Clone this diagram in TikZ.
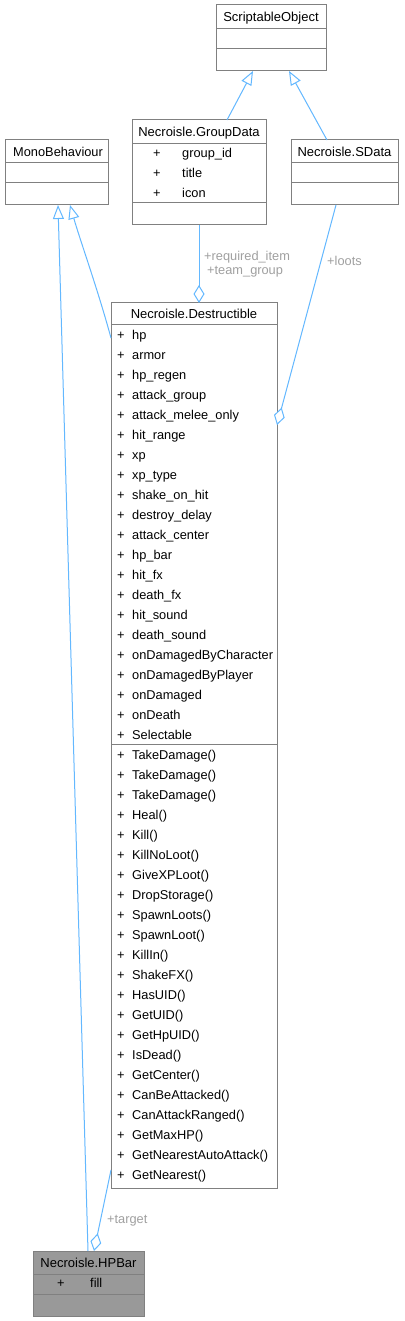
\documentclass[tikz,border=0pt]{standalone}
\usepackage{fontspec}
\setmainfont{Liberation Sans}
\usetikzlibrary{arrows.meta,calc}
\definecolor{edgec}{HTML}{63B8FF}
\definecolor{bord}{HTML}{808080}
\definecolor{lblc}{HTML}{A0A0A0}
\definecolor{hpfill}{HTML}{999999}
\begin{document}
\begin{tikzpicture}[x=1pt,y=-1pt,
  box/.style={draw=bord, line width=1pt, inner sep=0pt, outer sep=0pt, anchor=north west},
  sepline/.style={draw=bord, line width=1pt},
  txt/.style={font=\fontsize{12.8}{15}\selectfont, inner sep=0pt, anchor=base west},
  ttl/.style={font=\fontsize{13}{15}\selectfont, inner sep=0pt, anchor=base},
  lbl/.style={font=\fontsize{12.8}{15}\selectfont, inner sep=0pt, anchor=base west, text=lblc},
  inh/.style={draw=edgec, line width=1pt, -{Triangle[length=14pt,width=11pt,fill=white,line width=1pt]}},
  agg/.style={draw=edgec, line width=1pt, -{Diamond[length=18pt,width=11pt,fill=white,line width=1pt]}}]
\useasboundingbox[fill=white] (0,0) rectangle (404,1321);

% ScriptableObject
\node[box, minimum width=110pt, minimum height=66pt] (so) at (216,5) {};
\draw[sepline] (216,29) -- (326,29);
\draw[sepline] (216,49) -- (326,49);
\node[ttl] (sot) at (271,22) {ScriptableObject};

% GroupData
\node[box, minimum width=134pt, minimum height=105pt] (gd) at (132,120) {};
\draw[sepline] (132,144) -- (266,144);
\draw[sepline] (132,203) -- (266,203);
\node[ttl] (gdt) at (199,137) {Necroisle.GroupData};
\foreach [count=\i from 0] \t in {group\_id,title,icon} {
  \node[txt] (gdp\i) at (153,158+20*\i) {+};
  \node[txt] (gda\i) at (182,158+20*\i) {\t};
}

% MonoBehaviour
\node[box, minimum width=103pt, minimum height=65pt] (mb) at (5,140) {};
\draw[sepline] (5,163) -- (108,163);
\draw[sepline] (5,183) -- (108,183);
\node[txt] (mbt) at (13,157) {MonoBehaviour};

% SData
\node[box, minimum width=107pt, minimum height=65pt] (sd) at (291,140) {};
\draw[sepline] (291,163) -- (398,163);
\draw[sepline] (291,183) -- (398,183);
\node[ttl] (sdt) at (344.5,157) {Necroisle.SData};

% Destructible
\node[box, minimum width=166pt, minimum height=885pt] (ds) at (111,303) {};
\draw[sepline] (111,324) -- (277,324);
\draw[sepline] (111,744) -- (277,744);
\node[ttl] (dst) at (194,319) {Necroisle.Destructible};
\foreach [count=\i from 0] \t in {hp,armor,hp\_regen,attack\_group,attack\_melee\_only,hit\_range,xp,xp\_type,shake\_on\_hit,destroy\_delay,attack\_center,hp\_bar,hit\_fx,death\_fx,hit\_sound,death\_sound,onDamagedByCharacter,onDamagedByPlayer,onDamaged,onDeath,Selectable} {
  \node[txt] (dsp\i) at (117,339+20*\i) {+};
  \node[txt] (dsa\i) at (132,339+20*\i) {\t};
}
\foreach [count=\i from 0] \t in {TakeDamage(),TakeDamage(),TakeDamage(),Heal(),Kill(),KillNoLoot(),GiveXPLoot(),DropStorage(),SpawnLoots(),SpawnLoot(),KillIn(),ShakeFX(),HasUID(),GetUID(),GetHpUID(),IsDead(),GetCenter(),CanBeAttacked(),CanAttackRanged(),GetMaxHP(),GetNearestAutoAttack(),GetNearest()} {
  \node[txt] (dmp\i) at (117,759+20*\i) {+};
  \node[txt] (dmm\i) at (132,759+20*\i) {\t};
}

% HPBar
\node[box, fill=hpfill, minimum width=111pt, minimum height=65pt] (hp) at (33,1251) {};
\draw[sepline] (33,1274) -- (144,1274);
\draw[sepline] (33,1294) -- (144,1294);
\node[ttl] (hpt) at (88.5,1267) {Necroisle.HPBar};
\node[txt] (hpp) at (57,1287) {+};
\node[txt] (hpa) at (90,1287) {fill};

% Edges
\draw[inh] ([xshift=95pt]gd.north west) -- ([xshift=37pt]so.south west);
\draw[inh] ([xshift=36pt]sd.north west) -- ([xshift=73pt]so.south west);
\draw[inh] ([xshift=55pt]hp.north west) -- ([xshift=53pt]mb.south west);
\draw[inh] ([yshift=-35pt]ds.north west) .. controls (98,290) and (80,240) .. ([xshift=65pt]mb.south west);
\draw[agg] ([xshift=67pt]gd.south west) -- ([xshift=88pt]ds.north west);
\draw[agg] ([xshift=45pt]sd.south west) -- ([yshift=-122pt]ds.north east);
\draw[agg] ([yshift=18pt]ds.south west) -- ([xshift=61pt]hp.north west);

% Labels
\node[lbl] (l1) at (204,261) {+required\_item};
\node[lbl] (l2) at (207,275) {+team\_group};
\node[lbl] (l3) at (327,266) {+loots};
\node[lbl] (l4) at (107,1223) {+target};
\end{tikzpicture}
\end{document}
